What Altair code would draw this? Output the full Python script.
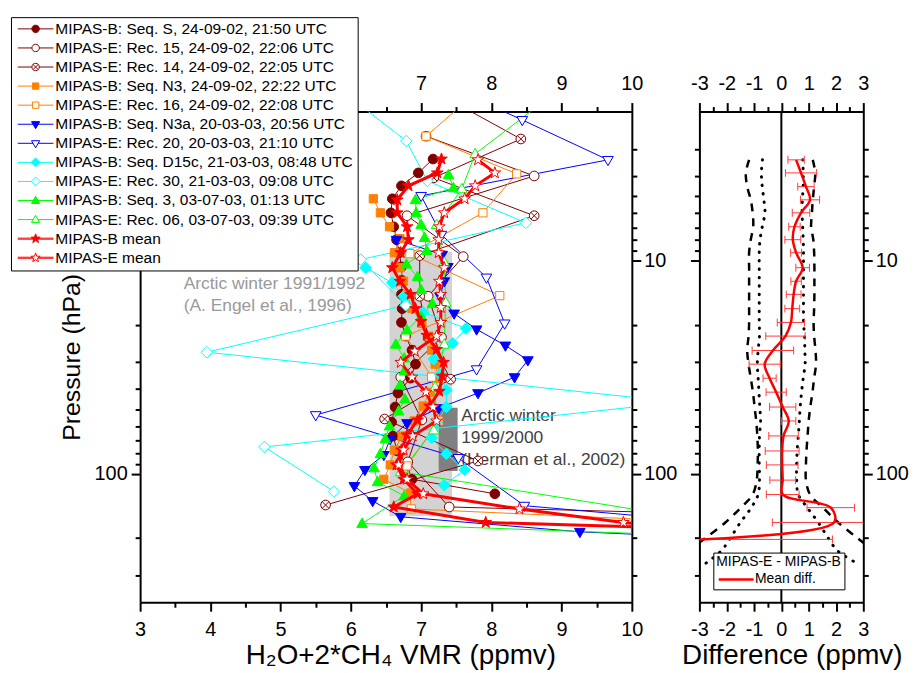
import math
import altair as alt
import pandas as pd

FONT = "Liberation Sans"

# ---------------- series definitions ----------------
NAMES = [
    "MIPAS-B: Seq. S, 24-09-02, 21:50 UTC",
    "MIPAS-E: Rec. 15, 24-09-02, 22:06 UTC",
    "MIPAS-E: Rec. 14, 24-09-02, 22:05 UTC",
    "MIPAS-B: Seq. N3, 24-09-02, 22:22 UTC",
    "MIPAS-E: Rec. 16, 24-09-02, 22:08 UTC",
    "MIPAS-B: Seq. N3a, 20-03-03, 20:56 UTC",
    "MIPAS-E: Rec. 20, 20-03-03, 21:10 UTC",
    "MIPAS-B: Seq. D15c, 21-03-03, 08:48 UTC",
    "MIPAS-E: Rec. 30, 21-03-03, 09:08 UTC",
    "MIPAS-B: Seq. 3, 03-07-03, 01:13 UTC",
    "MIPAS-E: Rec. 06, 03-07-03, 09:39 UTC",
    "MIPAS-B mean",
    "MIPAS-E mean",
]
COLORS = ["#800000", "#800000", "#800000", "#ff8000", "#ff8000", "#0000ff", "#0000ff",
          "#00ffff", "#00ffff", "#00ff00", "#00ff00", "#ff0000", "#ff0000"]
MARKERS = ["circle", "circle", "circlex", "square", "square", "tridown", "tridown",
           "diamond", "diamond", "triup", "triup", "star", "star"]
FILLED = [True, False, False, True, False, True, False, True, False, True, False, True, False]

# VMR (ppmv) and pressure (hPa) of each profile
S1_P = [3.34, 3.88, 4.46, 5.13, 5.97, 6.94, 7.98, 9.18, 10.7, 12.4, 14.4, 16.8, 19.5, 22.6, 26.3,
        30.6, 35.6, 41.8, 48.6, 57.2, 66.5, 78.1, 90.8, 106, 124]
S1_V = [7.17, 6.96, 6.72, 6.59, 6.57, 6.61, 6.65, 6.69, 6.72, 6.73, 6.72, 6.73, 6.72, 6.78, 6.87,
        6.92, 6.85, 6.67, 6.63, 6.58, 6.60, 6.66, 6.80, 6.87, 8.05]
S2_P = [2.61, 4.01, 6.16, 9.58, 14.7, 22.9, 35.2, 55.9, 87.9, 143, 224]
S2_V = [7.07, 8.61, 6.80, 7.60, 7.10, 7.29, 6.71, 7.01, 6.81, 7.40, 30.0]
S3_P = [1.73, 2.69, 4.09, 6.16, 9.48, 14.7, 22.9, 36.0, 55.3, 87.0, 140]
S3_V = [7.36, 8.42, 7.18, 8.61, 6.98, 6.98, 7.10, 7.42, 6.48, 7.81, 5.64]
S4_P = [5.13, 5.97, 6.94, 7.89, 9.18, 10.8, 12.5, 14.4, 16.8, 19.7, 22.6, 26.3, 30.6, 35.6, 41.4,
        48.1, 56.5, 66.5, 77.3, 90.8, 106, 123]
S4_V = [6.32, 6.42, 6.55, 6.70, 6.62, 6.70, 6.75, 6.80, 6.87, 7.01, 7.11, 7.15, 7.20, 7.25, 7.12,
        7.03, 6.90, 6.73, 6.62, 6.56, 6.47, 6.85]
S5_P = [1.68, 2.61, 3.92, 5.97, 9.28, 14.6, 22.6, 35.2, 56.5, 91.8, 146, 224]
S5_V = [7.74, 7.07, 8.36, 7.88, 6.84, 8.12, 6.78, 7.15, 7.25, 6.80, 6.86, 19.4]
S6_P = [7.98, 9.38, 10.7, 12.5, 14.7, 17.7, 21.0, 25.0, 29.3, 35.2, 41.8, 49.2, 57.8, 68.6, 81.5,
        95.8, 114, 134, 159, 187, 224]
S6_V = [6.65, 7.30, 7.38, 7.33, 7.27, 7.47, 7.79, 8.20, 8.52, 8.33, 7.81, 7.25, 6.80, 6.56, 6.47,
        6.20, 6.05, 6.31, 6.71, 9.26, 14.7]
S7_P = [1.41, 2.19, 3.37, 4.97, 7.56, 12.0, 19.7, 32.3, 53.0, 84.2, 141, 224]
S7_V = [7.16, 8.44, 9.66, 7.00, 7.29, 7.93, 8.19, 7.79, 5.50, 7.53, 8.47, 15.4]
S8_P = [10.8, 12.7, 14.7, 17.5, 20.8, 24.4, 29.0, 34.1, 40.5, 48.6, 57.2, 67.9, 80.6, 95.8, 113]
S8_V = [6.21, 6.59, 6.75, 7.03, 7.64, 7.45, 7.18, 7.27, 7.36, 7.36, 7.22, 7.15, 7.36, 7.62, 7.33]
S9_P = [1.77, 2.75, 4.23, 6.65, 9.89, 16.2, 26.9, 46.1, 74.8, 121]
S9_V = [6.04, 6.79, 7.09, 8.49, 6.14, 6.78, 3.95, 10.67, 4.77, 5.76]
S10_P = [3.96, 4.56, 5.19, 5.97, 6.79, 7.81, 8.98, 10.4, 11.9, 13.7, 15.9, 18.3, 21.2, 24.7, 28.7,
         33.0, 38.4, 44.6, 50.8, 59.7, 68.6, 80.6, 93.8, 109, 127, 171, 224]
S10_V = [7.39, 7.46, 6.92, 6.93, 7.00, 7.05, 7.08, 6.79, 6.95, 7.00, 7.16, 7.00, 6.80, 6.64, 6.76,
         6.76, 6.70, 6.77, 6.68, 6.55, 6.49, 6.42, 6.33, 6.38, 6.76, 6.16, 16.0]
S11_P = [1.79, 3.16, 4.61, 6.79, 10.2, 15.7, 24.7, 39.2, 62.3, 97.9, 157]
S11_V = [8.75, 7.77, 7.58, 7.22, 7.33, 7.35, 7.33, 7.20, 7.18, 6.71, 10.6]
S12_P = [3.34, 3.88, 4.46, 5.19, 5.97, 6.94, 7.98, 9.18, 10.8, 12.5, 14.4, 16.8, 19.3, 22.4, 26.1,
         30.0, 34.8, 41.0, 48.1, 55.9, 65.7, 77.3, 90.8, 106, 124, 143, 169, 201]
S12_V = [7.29, 7.23, 6.82, 6.66, 6.66, 6.80, 6.82, 6.71, 6.59, 6.70, 6.85, 6.92, 7.00, 7.08, 7.22,
         7.32, 7.30, 7.26, 7.12, 6.95, 6.80, 6.72, 6.65, 6.75, 6.95, 6.61, 7.92, 15.7]
S13_P = [3.37, 3.88, 4.46, 5.13, 5.97, 6.94, 7.98, 9.18, 10.8, 12.5, 14.4, 16.6, 19.5, 22.6, 26.6,
         30.0, 35.2, 41.4, 48.6, 56.5, 66.5, 77.3, 90.8, 106, 124, 146, 169, 201]
S13_V = [7.81, 8.05, 7.77, 7.62, 7.33, 7.26, 7.25, 7.25, 7.33, 7.26, 7.28, 7.28, 7.28, 7.22, 6.91,
         6.71, 6.87, 7.07, 7.17, 7.22, 6.88, 6.75, 6.68, 6.80, 7.03, 8.40, 9.88, 12.7]

SERIES = [(S1_V, S1_P), (S2_V, S2_P), (S3_V, S3_P), (S4_V, S4_P), (S5_V, S5_P), (S6_V, S6_P),
          (S7_V, S7_P), (S8_V, S8_P), (S9_V, S9_P), (S10_V, S10_P), (S11_V, S11_P),
          (S12_V, S12_P), (S13_V, S13_P)]

# climatology boxes
BOX1_V = [6.55, 7.44]
BOX1_P = [9.1, 158]
BOX2_V = [7.25, 7.52]
BOX2_P = [49, 97]

ANN_TEXT = ["Arctic winter 1991/1992", "(A. Engel et al., 1996)",
            "Arctic winter", "1999/2000", "(Herman et al., 2002)"]
ANN_V = [3.62, 3.62, 7.57, 7.57, 7.57]
ANN_P = [12.85, 16.4, 53.6, 67.9, 86.6]
ANN_C = ["#999999", "#999999", "#404040", "#404040", "#404040"]

# ---------------- difference panel ----------------
DIFF_P = [3.37, 3.88, 4.50, 5.19, 5.97, 6.94, 7.98, 9.18, 10.8, 12.5, 14.4, 16.8, 19.5, 22.6,
          26.4, 30.6, 35.6, 41.4, 48.6, 56.5, 66.4, 78.1, 90.8, 107, 125, 144, 169, 203]
DIFF = [0.54, 0.72, 0.90, 1.05, 0.72, 0.48, 0.42, 0.54, 0.78, 0.54, 0.45, 0.40, 0.35, 0.15,
        -0.31, -0.61, -0.43, -0.19, 0.05, 0.27, 0.08, 0.03, 0.03, 0.05, 0.05, 1.81, 1.93, -2.97]
DIFF_ERR = [0.30, 0.57, 0.30, 0.35, 0.32, 0.21, 0.29, 0.20, 0.25, 0.19, 0.27, 0.27, 0.50, 0.72,
            0.76, 0.57, 0.24, 0.37, 0.48, 0.26, 0.54, 0.62, 0.58, 0.47, 0.60, 0.87, 2.26, 4.84]
ENV_P = [3.37, 3.88, 4.50, 5.19, 5.97, 6.94, 7.98, 9.18, 10.8, 12.5, 14.4, 16.8, 19.5, 22.6,
         26.4, 30.6, 35.6, 41.4, 48.6, 56.5, 66.4, 78.1, 90.8, 107, 125, 144, 169, 203, 229, 264]
DASH_R = [1.15, 1.24, 1.20, 1.15, 1.12, 1.09, 1.17, 1.20, 1.21, 1.21, 1.21, 1.20, 1.18, 1.20,
          1.25, 1.27, 1.20, 1.14, 1.06, 1.00, 0.96, 0.92, 0.90, 0.90, 1.05, 1.52, 2.08, 2.85, 3.4, 4.2]
DASH_L = [-1.18, -1.30, -1.25, -1.12, -1.05, -1.03, -1.12, -1.18, -1.18, -1.18, -1.18, -1.18,
          -1.18, -1.20, -1.25, -1.20, -1.12, -1.04, -0.98, -0.92, -0.88, -0.86, -0.87, -0.90,
          -1.05, -1.48, -2.05, -2.85, -3.4, -4.2]
DOT_R = [0.78, 0.80, 0.80, 0.77, 0.76, 0.78, 0.80, 0.81, 0.81, 0.81, 0.81, 0.81, 0.81, 0.85,
         0.86, 0.87, 0.80, 0.74, 0.69, 0.66, 0.62, 0.58, 0.56, 0.56, 0.62, 0.95, 1.35, 1.75, 2.05, 2.8]
DOT_L = [-0.69, -0.73, -0.70, -0.64, -0.60, -0.70, -0.78, -0.81, -0.81, -0.81, -0.81, -0.81,
         -0.81, -0.80, -0.85, -0.88, -0.85, -0.82, -0.79, -0.76, -0.80, -0.81, -0.81, -0.80,
         -0.85, -1.10, -1.50, -1.90, -2.19, -2.79]

# tick values
X_MAJOR = [3, 4, 5, 6, 7, 8, 9, 10]
X_MINOR = [3.5, 4.5, 5.5, 6.5, 7.5, 8.5, 9.5]
D_MAJOR = [-3, -2, -1, 0, 1, 2, 3]
D_MINOR = [-2.5, -1.5, -0.5, 0.5, 1.5, 2.5]
Y_MAJOR = [10, 100]
Y_MINOR = [3, 4, 5, 6, 7, 8, 9, 20, 30, 40, 50, 60, 70, 80, 90, 200, 300]


# ---------------- marker shapes (unit-box SVG paths) ----------------
def circ(r):
    k = 0.5523 * r
    f = lambda v: f"{v:.3f}"
    return (f"M{f(r)},0C{f(r)},{f(k)} {f(k)},{f(r)} 0,{f(r)}"
            f"C{f(-k)},{f(r)} {f(-r)},{f(k)} {f(-r)},0"
            f"C{f(-r)},{f(-k)} {f(-k)},{f(-r)} 0,{f(-r)}"
            f"C{f(k)},{f(-r)} {f(r)},{f(-k)} {f(r)},0Z")


def star(R, r):
    pts = []
    for i in range(10):
        ang = math.pi / 2 - i * math.pi / 5
        rad = R if i % 2 == 0 else r
        pts.append((rad * math.cos(ang), -rad * math.sin(ang)))
    return "M" + "L".join(f"{x:.3f},{y:.3f}" for x, y in pts) + "Z"


MARK = {
    "circle": circ(1.0),
    "circlex": circ(1.0) + "M-0.7,-0.7L0.7,0.7M-0.7,0.7L0.7,-0.7",
    "square": "M-0.85,-0.85H0.85V0.85H-0.85Z",
    "tridown": "M-1.1,-0.7H1.1L0,1.2Z",
    "triup": "M-1.1,0.8H1.1L0,-1.15Z",
    "diamond": "M0,-1.2L1.2,0L0,1.2L-1.2,0Z",
    "star": star(1.3, 0.52),
}
HALF = {"circle": 1.0, "circlex": 1.0, "square": 0.85, "tridown": 0.7, "triup": 0.65,
        "diamond": 1.2, "star": 0.72}


def leg_path(m, filled, thick):
    L = 4.8
    hw = HALF[m]
    offs = [-0.14, 0.14] if thick else [0]
    segs = ""
    for o in offs:
        if filled:
            segs += f"M{-L},{o}H{L}"
        else:
            segs += f"M{-L},{o}H{-hw}M{hw},{o}H{L}"
    return segs + MARK[m]


PKEYS = ["p:" + n for n in NAMES]
LKEYS = ["L:" + n for n in NAMES]
DOM = PKEYS + LKEYS
STROKE_SC = alt.Scale(domain=DOM, range=COLORS + COLORS)
FILL_SC = alt.Scale(domain=DOM, range=[c if f else "white" for c, f in zip(COLORS, FILLED)] * 2)
SHAPE_SC = alt.Scale(domain=DOM, range=[MARK[m] for m in MARKERS] +
                     [leg_path(m, f, i >= 11) for i, (m, f) in enumerate(zip(MARKERS, FILLED))])

LEG = alt.Legend(values=LKEYS, labelExpr="substring(datum.label, 2)", title=None,
                 orient="none", legendX=-130, legendY=-95, fillColor="white",
                 strokeColor="black", padding=4, labelFont=FONT, labelFontSize=15.6,
                 labelColor="black", labelLimit=600, symbolSize=56, symbolStrokeWidth=1,
                 symbolOffset=13, labelOffset=12, rowPadding=2.2)

rows = []
for i, (vs, ps) in enumerate(SERIES):
    for v, p in zip(vs, ps):
        rows.append({"key": PKEYS[i], "col": COLORS[i], "v": v, "p": p, "mean": i >= 11})
df = pd.DataFrame(rows)
thin = df[~df["mean"]]
means = df[df["mean"]]

XM = alt.Scale(domain=[3, 10], nice=False, zero=False)
XD = alt.Scale(domain=[-3, 3], nice=False, zero=False)
YS = alt.Scale(type="log", domain=[2, 400], reverse=True, nice=False)


def axis(orient, values, labels=True, minor=False, title=None, pad=6, tpad=6,
         expr="toString(datum.value)", tsize=25, **extra):
    return alt.Axis(orient=orient, values=values, grid=False,
                    tickSize=5 if minor else 9, tickWidth=2, tickColor="black",
                    domain=not minor, domainColor="black", domainWidth=2,
                    labels=labels and not minor, labelFlush=False, labelOverlap=False,
                    labelFont=FONT, labelFontSize=20, labelColor="black",
                    labelExpr=expr, labelPadding=pad,
                    title=title, titleFont=FONT, titleFontSize=tsize,
                    titleFontWeight="normal", titleColor="black", titlePadding=tpad, **extra)


W, H = 495, 494
box1 = pd.DataFrame({"x0": [BOX1_V[0]], "x1": [BOX1_V[1]], "p0": [BOX1_P[0]], "p1": [BOX1_P[1]]})
box2 = pd.DataFrame({"x0": [BOX2_V[0]], "x1": [BOX2_V[1]], "p0": [BOX2_P[0]], "p1": [BOX2_P[1]]})
ann = pd.DataFrame({"t": ANN_TEXT, "v": ANN_V, "p": ANN_P, "c": ANN_C})

m1 = alt.Chart(box1).mark_rect(color="#d3d3d3").encode(
    x=alt.X("x0:Q", scale=XM, axis=axis("bottom", X_MAJOR, title="H₂O+2*CH₄ VMR (ppmv)",
                                        pad=8, tpad=3, tsize=28, titleX=262)),
    x2="x1:Q",
    # the left "10" label is hidden under the legend box in the original
    y=alt.Y("p0:Q", scale=YS, axis=axis("left", Y_MAJOR, title="Pressure (hPa)", pad=4, tpad=10,
                                        expr="datum.value >= 100 ? toString(datum.value) : ''")),
    y2="p1:Q")
# top labels 3-6 sit under the legend box in the original
m2 = alt.Chart(box2).mark_rect(color="#808080").encode(
    x=alt.X("x0:Q", scale=XM, axis=axis("top", X_MAJOR, pad=9,
                                        expr="datum.value >= 7 ? toString(datum.value) : ''")),
    x2="x1:Q",
    y=alt.Y("p0:Q", scale=YS, axis=axis("right", Y_MAJOR, pad=3)),
    y2="p1:Q")
m3 = alt.Chart(ann).mark_text(align="left", baseline="middle", font=FONT, fontSize=17.5).encode(
    x=alt.X("v:Q", scale=XM, axis=axis("bottom", X_MINOR, minor=True)),
    y=alt.Y("p:Q", scale=YS, axis=axis("left", Y_MINOR, minor=True)),
    text="t:N", color=alt.Color("c:N", scale=None))
m4 = alt.Chart(thin).mark_line(strokeWidth=1, clip=True).encode(
    x=alt.X("v:Q", scale=XM, axis=axis("top", X_MINOR, minor=True)),
    y=alt.Y("p:Q", scale=YS, axis=axis("right", Y_MINOR, minor=True)),
    stroke=alt.Stroke("col:N", scale=None),
    detail="key:N",
    order="p:Q")
m5 = alt.Chart(thin).mark_point(filled=True, size=95, opacity=1, strokeWidth=1, clip=True).encode(
    x=alt.X("v:Q", scale=XM, axis=None),
    y=alt.Y("p:Q", scale=YS, axis=None),
    stroke=alt.Stroke("key:N", scale=STROKE_SC, legend=LEG),
    fill=alt.Fill("key:N", scale=FILL_SC, legend=LEG),
    shape=alt.Shape("key:N", scale=SHAPE_SC, legend=LEG))
m6 = alt.Chart(means).mark_line(strokeWidth=3, clip=True).encode(
    x=alt.X("v:Q", scale=XM, axis=None),
    y=alt.Y("p:Q", scale=YS, axis=None),
    stroke=alt.Stroke("col:N", scale=None),
    detail="key:N",
    order="p:Q")
m7 = alt.Chart(means).mark_point(filled=True, size=90, opacity=1, strokeWidth=1, clip=True).encode(
    x=alt.X("v:Q", scale=XM, axis=None),
    y=alt.Y("p:Q", scale=YS, axis=None),
    stroke=alt.Stroke("key:N", scale=STROKE_SC, legend=LEG),
    fill=alt.Fill("key:N", scale=FILL_SC, legend=LEG),
    shape=alt.Shape("key:N", scale=SHAPE_SC, legend=LEG))

main = alt.layer(m1, m2, m3, m4, m5, m6, m7).resolve_axis(
    x="independent", y="independent").properties(width=W, height=H)

# difference panel data
env_rows = []
for side, vals in (("L", DASH_L), ("R", DASH_R)):
    for d, p in zip(vals, ENV_P):
        env_rows.append({"d": d, "p": p, "side": side})
dash_df = pd.DataFrame(env_rows)
env_rows = []
for side, vals in (("L", DOT_L), ("R", DOT_R)):
    for d, p in zip(vals, ENV_P):
        env_rows.append({"d": d, "p": p, "side": side})
dot_df = pd.DataFrame(env_rows)
err_df = pd.DataFrame({"p": DIFF_P, "lo": [d - e for d, e in zip(DIFF, DIFF_ERR)],
                       "hi": [d + e for d, e in zip(DIFF, DIFF_ERR)]})
cap_df = pd.DataFrame({"p": DIFF_P + DIFF_P, "d": list(err_df["lo"]) + list(err_df["hi"])})
diff_df = pd.DataFrame({"p": DIFF_P, "d": DIFF, "lbl": ["Mean diff."] * len(DIFF)})
ERR_COLOR = "#ff3b3b"

d1 = alt.Chart(pd.DataFrame({"d": [0.0]})).mark_rule(color="black", strokeWidth=2).encode(
    x=alt.X("d:Q", scale=XD, axis=axis("bottom", D_MAJOR, title="Difference (ppmv)", pad=8,
                                       tpad=3, tsize=28, titleX=93)))
d2 = alt.Chart(dash_df).mark_line(color="black", strokeWidth=2.5, strokeDash=[8, 7],
                                  interpolate="catmull-rom", clip=True).encode(
    x=alt.X("d:Q", scale=XD, axis=axis("top", D_MAJOR, pad=9)),
    y=alt.Y("p:Q", scale=YS, axis=axis("left", Y_MAJOR, labels=False)),
    detail="side:N", order="p:Q")
d3 = alt.Chart(dot_df).mark_line(color="black", strokeWidth=3, strokeDash=[0.5, 8], strokeCap="round",
                                 interpolate="catmull-rom", clip=True).encode(
    x=alt.X("d:Q", scale=XD, axis=axis("top", D_MINOR, minor=True)),
    y=alt.Y("p:Q", scale=YS, axis=axis("right", Y_MAJOR, pad=3)),
    detail="side:N", order="p:Q")
d4 = alt.Chart(err_df).mark_rule(color=ERR_COLOR, strokeWidth=1, clip=True).encode(
    x=alt.X("lo:Q", scale=XD, axis=axis("bottom", D_MINOR, minor=True)),
    x2="hi:Q",
    y=alt.Y("p:Q", scale=YS, axis=axis("left", Y_MINOR, minor=True)))
d5 = alt.Chart(cap_df).mark_tick(orient="vertical", size=8, thickness=1, color=ERR_COLOR,
                                 opacity=1, clip=True).encode(
    x=alt.X("d:Q", scale=XD, axis=None),
    y=alt.Y("p:Q", scale=YS, axis=axis("right", Y_MINOR, minor=True)))
d6 = alt.Chart(diff_df).mark_line(strokeWidth=2.5, interpolate="catmull-rom", clip=True).encode(
    x=alt.X("d:Q", scale=XD, axis=None),
    y=alt.Y("p:Q", scale=YS, axis=None),
    order="p:Q",
    stroke=alt.Stroke("lbl:N", scale=alt.Scale(domain=["Mean diff."], range=["#ff0000"]),
                      legend=alt.Legend(title="MIPAS-E - MIPAS-B", orient="none", legendX=14,
                                        legendY=444, symbolType="M-4,0H4", symbolSize=77,
                                        symbolOffset=13, symbolStrokeWidth=2.5, fillColor="white",
                                        strokeColor="black", padding=3, titleFont=FONT,
                                        titleFontSize=14, titleFontWeight="normal",
                                        titleColor="black", titlePadding=3, labelFont=FONT,
                                        labelFontSize=14, labelColor="black", labelOffset=12)))

diffp = alt.layer(d1, d2, d3, d4, d5, d6).resolve_axis(
    x="independent", y="independent").properties(width=165, height=H)

chart = alt.hconcat(main, diffp, spacing=3).resolve_scale(
    x="independent", y="independent", stroke="independent", fill="independent",
    shape="independent").properties(
    padding={"left": 2, "top": 6, "right": 0, "bottom": 0}).configure_view(strokeWidth=0)

chart.save("out.html", embed_options={"renderer": "svg", "actions": False})
